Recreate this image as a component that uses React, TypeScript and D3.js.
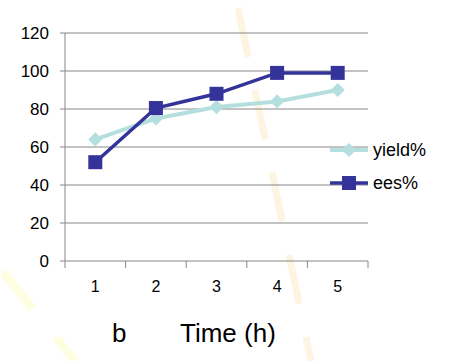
import { useRef, useEffect } from 'react';
import * as d3 from 'd3';

const categories = ['1', '2', '3', '4', '5'];
const yieldValues = [64, 75, 81, 84, 90];
const eesValues = [52, 80.5, 88, 99, 99];
const yTicks = [0, 20, 40, 60, 80, 100, 120];

const W = 456;
const H = 361;

export default function App() {
  const svgRef = useRef<SVGSVGElement>(null);

  useEffect(() => {
    if (!svgRef.current) return;
    const svg = d3.select(svgRef.current);
    svg.selectAll('*').remove();

    const font = 'Liberation Sans, Arial, sans-serif';
    const left = 65, right = 368, top = 33, bottom = 261;

    svg.append('rect').attr('width', W).attr('height', H).attr('fill', '#fff');

    // faint dashed background strokes seen in the picture
    svg.append('line')
      .attr('x1', 238).attr('y1', 8).attr('x2', 311).attr('y2', 361)
      .attr('stroke', '#fef4e2').attr('stroke-width', 7)
      .attr('stroke-dasharray', '50 34');
    svg.append('line')
      .attr('x1', 3).attr('y1', 272).attr('x2', 75).attr('y2', 361)
      .attr('stroke', '#fefee3').attr('stroke-width', 9)
      .attr('stroke-dasharray', '47 37');

    const x = d3.scaleBand().domain(categories).range([left, right]);
    const y = d3.scaleLinear().domain([0, 120]).range([bottom, top]);

    // gridlines
    svg.append('g').selectAll('line').data(yTicks).enter().append('line')
      .attr('x1', left - 5).attr('x2', right)
      .attr('y1', d => y(d)).attr('y2', d => y(d))
      .attr('stroke', '#868686').attr('stroke-width', 1);

    // y axis line
    svg.append('line')
      .attr('x1', left).attr('x2', left).attr('y1', top).attr('y2', bottom)
      .attr('stroke', '#868686');

    // x ticks
    const xEdges = categories.map(c => x(c) || 0).concat([right]);
    svg.append('g').selectAll('line').data(xEdges).enter().append('line')
      .attr('x1', d => d).attr('x2', d => d)
      .attr('y1', bottom).attr('y2', bottom + 7)
      .attr('stroke', '#868686');

    // y labels
    svg.append('g').selectAll('text').data(yTicks).enter().append('text')
      .attr('x', 49).attr('y', d => y(d) + 6)
      .attr('text-anchor', 'end')
      .style('font-family', font).style('font-size', '17px').attr('fill', '#000')
      .text(d => d);

    // x labels
    svg.append('g').selectAll('text').data(categories).enter().append('text')
      .attr('x', d => (x(d) || 0) + x.bandwidth() / 2).attr('y', 292)
      .attr('text-anchor', 'middle')
      .style('font-family', font).style('font-size', '16px').attr('fill', '#000')
      .text(d => d);

    svg.append('text').attr('x', 112).attr('y', 342)
      .style('font-family', font).style('font-size', '26px').text('b');
    svg.append('text').attr('x', 180).attr('y', 342)
      .style('font-family', font).style('font-size', '26px').text('Time (h)');

    const cx = (i: number) => (x(categories[i]) || 0) + x.bandwidth() / 2;
    const line = d3.line<number>().x((_, i) => cx(i)).y(d => y(d));

    const teal = '#b5dfdf';
    const navy = '#333399';

    svg.append('path').datum(yieldValues)
      .attr('d', line).attr('fill', 'none')
      .attr('stroke', teal).attr('stroke-width', 4);
    svg.append('g').selectAll('rect').data(yieldValues).enter().append('rect')
      .attr('x', -5).attr('y', -5).attr('width', 10).attr('height', 10)
      .attr('fill', teal)
      .attr('transform', (d, i) => `translate(${cx(i)},${y(d)}) rotate(45)`);

    svg.append('path').datum(eesValues)
      .attr('d', line).attr('fill', 'none')
      .attr('stroke', navy).attr('stroke-width', 3.5);
    svg.append('g').selectAll('rect').data(eesValues).enter().append('rect')
      .attr('x', (_, i) => cx(i) - 7).attr('y', d => y(d) - 7)
      .attr('width', 14).attr('height', 14)
      .attr('fill', navy);

    // legend
    const legend = [
      { name: 'yield%', color: teal, shape: 'diamond', yPos: 150 },
      { name: 'ees%', color: navy, shape: 'square', yPos: 183 },
    ];
    legend.forEach(l => {
      svg.append('line')
        .attr('x1', 330).attr('x2', 368).attr('y1', l.yPos).attr('y2', l.yPos)
        .attr('stroke', l.color).attr('stroke-width', l.shape === 'diamond' ? 4 : 3.5);
      if (l.shape === 'diamond') {
        svg.append('rect')
          .attr('x', -5).attr('y', -5).attr('width', 10).attr('height', 10)
          .attr('fill', l.color)
          .attr('transform', `translate(349,${l.yPos}) rotate(45)`);
      } else {
        svg.append('rect')
          .attr('x', 342).attr('y', l.yPos - 7).attr('width', 14).attr('height', 14)
          .attr('fill', l.color);
      }
      svg.append('text')
        .attr('x', 373).attr('y', l.yPos + 6)
        .style('font-family', font).style('font-size', '18px')
        .text(l.name);
    });
  }, []);

  return (
    <div style={{ position: 'absolute', left: 0, top: 0 }}>
      <svg ref={svgRef} width={W} height={H} style={{ display: 'block' }} />
    </div>
  );
}
